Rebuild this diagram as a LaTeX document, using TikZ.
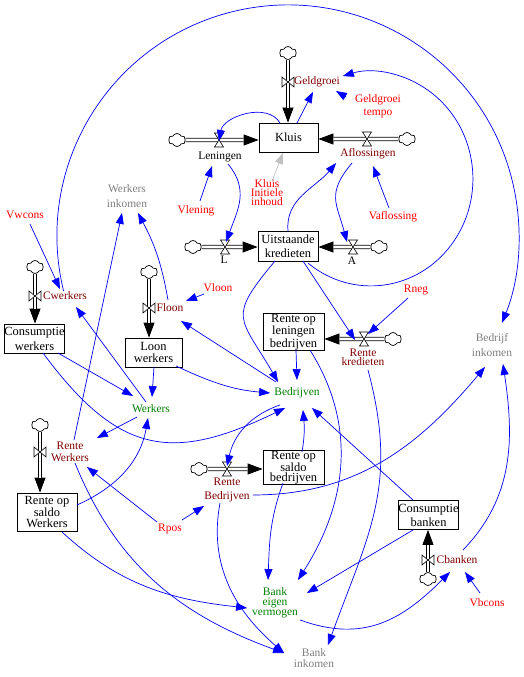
\documentclass[tikz,border=0pt]{standalone}
\usepackage{fontspec}
\setmainfont{Liberation Serif}
\usetikzlibrary{arrows.meta,shapes.symbols}
\definecolor{cblue}{RGB}{0,0,255}
\definecolor{cmaroon}{RGB}{128,0,0}
\definecolor{cgreen}{RGB}{0,128,0}
\definecolor{cgray}{RGB}{128,128,128}
\definecolor{csilver}{RGB}{192,192,192}
\definecolor{cred}{RGB}{255,0,0}
\tikzset{
  conn/.style={draw=cblue, line width=0.7bp, -{Triangle[length=11bp,width=8bp]}},
  gconn/.style={conn, draw=csilver},
  pipetip/.style={draw=black, line width=0.8bp, -{Triangle[length=15bp,width=11bp]}},
  pipe/.style={draw=black, double=white, double distance=2.6bp, line width=0.8bp, shorten >=15bp},
  stock/.style={draw, line width=0.8bp, fill=white, align=center, inner xsep=0bp, inner ysep=1bp, font=\fontsize{12.5}{#1}\selectfont},
  stock/.default=14,
  txt/.style={align=center, inner sep=0.5bp, font=\fontsize{11.5}{#1}\selectfont},
  txt/.default=13,
  redt/.style={txt=#1, text=cred}, redt/.default=13,
  flowt/.style={txt=#1, text=cmaroon}, flowt/.default=13,
  blackt/.style={txt=#1, text=black}, blackt/.default=13,
  greent/.style={txt=#1, text=cgreen}, greent/.default=13,
  grayt/.style={txt=#1, text=cgray}, grayt/.default=13,
  cloudn/.style={cloud, draw, fill=white, line width=0.7bp, cloud puffs=6, cloud puff arc=130, aspect=1.25, minimum width=17bp, minimum height=13bp, inner sep=0pt},
  hv/.pic={\draw[fill=white, line width=0.6bp] (-4.5,7)--(4.5,7)--(-4.5,-7)--(4.5,-7)--cycle;},
  vv/.pic={\draw[fill=white, line width=0.6bp] (-6,5)--(-6,-5)--(6,5)--(6,-5)--cycle;}
}
\newcommand\flowpipe[2]{\draw[pipetip] #1 -- #2; \draw[pipe] #1 -- #2;}
\begin{document}
\begin{tikzpicture}[x=1bp,y=1bp]
\fill[white] (0,0) rectangle (524,-677);
\useasboundingbox (0,0) rectangle (524,-677);

% stocks
\node[stock=12, minimum width=59bp, minimum height=29bp] (kluis) at (288.5,-137.5) {Kluis};
\node[stock=14, minimum width=60bp, minimum height=30bp] (uk) at (288,-246) {Uitstaande\\kredieten};
\node[stock=15, minimum width=59bp, minimum height=29bp] (cw) at (34.5,-338.5) {Consumptie\\werkers};
\node[stock=13, minimum width=57bp, minimum height=29bp] (lw) at (153.5,-352.5) {Loon\\werkers};
\node[stock=10, minimum width=61bp, minimum height=36bp] (rlb) at (293.5,-332) {Rente op\\leningen\\bedrijven};
\node[stock=10.5, minimum width=60bp, minimum height=38bp] (rsw) at (47,-512) {Rente op\\saldo\\Werkers};
\node[stock=9.5, minimum width=61bp, minimum height=31bp] (rsb) at (293.5,-467.5) {Rente op\\saldo\\bedrijven};
\node[stock=14, minimum width=60bp, minimum height=29bp] (cb) at (428.5,-515) {Consumptie\\banken};

% flow labels
\node[flowt] (lgg) at (317,-82) {Geldgroei};
\node[blackt] (lle) at (220,-157) {Leningen};
\node[flowt] (laf) at (368,-154) {Aflossingen};
\node[blackt] (ll) at (224,-260) {L};
\node[blackt] (la) at (352,-261) {A};
\node[flowt] (lcw) at (65,-296) {Cwerkers};
\node[flowt] (lfl) at (170,-308) {Floon};
\node[flowt=12] (lrw) at (70,-452) {Rente\\Werkers};
\node[flowt=14] (lrb) at (227,-490) {Rente\\Bedrijven};
\node[flowt=9.5] (lrk) at (363,-357.5) {Rente\\kredieten};
\node[flowt] (lcb) at (457,-560) {Cbanken};

% variables
\node[redt=13] (ggt) at (378,-106) {Geldgroei\\tempo};
\node[redt=7.5] (kii) at (267,-193) {Kluis\\Initiele\\inhoud};
\node[redt] (vlen) at (196,-211) {Vlening};
\node[redt] (vafl) at (393,-217) {Vaflossing};
\node[grayt=15] (wi) at (127,-196) {Werkers\\inkomen};
\node[redt] (vwc) at (25,-215) {Vwcons};
\node[redt] (vloon) at (218,-288) {Vloon};
\node[redt] (rneg) at (416,-290) {Rneg};
\node[grayt=15] (bi) at (492,-345) {Bedrijf\\inkomen};
\node[greent] (bedr) at (297,-393) {Bedrijven};
\node[greent] (wrk) at (151,-409) {Werkers};
\node[redt] (rpos) at (170,-529) {Rpos};
\node[greent=10] (bev) at (275,-603) {Bank\\eigen\\vermogen};
\node[redt] (vbc) at (487,-603) {Vbcons};
\node[grayt=11] (bink) at (314,-658) {Bank\\inkomen};

% clouds
\node[cloudn] (cgg) at (288,-53) {};
\node[cloudn] (cle) at (177,-140) {};
\node[cloudn] (caf) at (407,-139) {};
\node[cloudn] (cl) at (193,-247) {};
\node[cloudn] (ca) at (379,-247) {};
\node[cloudn] (ccw) at (35,-267) {};
\node[cloudn] (cfl) at (149,-272) {};
\node[cloudn] (crw) at (40,-425) {};
\node[cloudn] (crb) at (199,-469) {};
\node[cloudn] (crk) at (393,-339) {};
\node[cloudn] (ccb) at (428,-579) {};

% pipes
\flowpipe{(cgg)}{(cgg |- kluis.north)}
\flowpipe{(cle)}{(cle -| kluis.west)}
\flowpipe{(caf)}{(caf -| kluis.east)}
\flowpipe{(cl)}{(cl -| uk.west)}
\flowpipe{(ca)}{(ca -| uk.east)}
\flowpipe{(ccw)}{(ccw |- cw.north)}
\flowpipe{(cfl)}{(cfl |- lw.north)}
\flowpipe{(crw)}{(crw |- rsw.north)}
\flowpipe{(crb)}{(crb -| rsb.west)}
\flowpipe{(crk)}{(crk -| rlb.east)}
\flowpipe{(ccb)}{(ccb |- cb.south)}

% valves
\coordinate (vgg) at (288,-82);  \pic at (vgg) {vv};
\coordinate (vle) at (219,-140); \pic at (vle) {hv};
\coordinate (vaf) at (367,-139); \pic at (vaf) {hv};
\coordinate (vl) at (225,-247);  \pic at (vl) {hv};
\coordinate (va) at (353,-247);  \pic at (va) {hv};
\coordinate (vcw) at (35,-296);  \pic at (vcw) {vv};
\coordinate (vfl) at (149,-308); \pic at (vfl) {vv};
\coordinate (vrw) at (40,-452);  \pic at (vrw) {vv};
\coordinate (vrb) at (227,-469); \pic at (vrb) {hv};
\coordinate (vrk) at (364,-339); \pic at (vrk) {hv};
\coordinate (vcb) at (428,-560); \pic at (vcb) {vv};

% connectors
\draw[conn] ([xshift=-1.4,yshift=5]lcw.center) arc[start angle=193.8, end angle=-22.1, radius=231];
\draw[conn] ([xshift=20.2,yshift=-17.3]uk.center) arc[start angle=232, end angle=466, x radius=102, y radius=107];
\draw[conn] ([xshift=-32,yshift=9]ggt.center) -- ([xshift=19,yshift=-9]lgg.center);
\draw[conn] ([xshift=8.5,yshift=14.5]kluis.center) -- ([xshift=-4,yshift=-10]lgg.center);
\draw[conn] ([xshift=-8.5,yshift=14.5]kluis.center) to[out=120,in=80] ([yshift=-1]vle);
\draw[conn] ([xshift=4,yshift=10]vlen.center) -- ([xshift=-8,yshift=-9]lle.center);
\draw[conn] ([xshift=8,yshift=-7]lle.center) to[out=-50,in=70,looseness=1.1] ([xshift=1,yshift=5]vl);
\draw[conn] ([yshift=15]uk.center) to[out=95,in=230] ([xshift=-32,yshift=-9]laf.center);
\draw[conn] ([xshift=-16,yshift=-9]laf.center) to[out=-130,in=105,looseness=1.3] ([xshift=-6,yshift=5]va);
\draw[conn] ([xshift=-4,yshift=9]vafl.center) -- ([xshift=5,yshift=-12]laf.center);
\draw[gconn] ([xshift=5,yshift=12]kii.center) -- ([xshift=-5.5,yshift=-15.5]kluis.center);
\draw[conn] ([xshift=5,yshift=-9]vwc.center) -- ([xshift=-5,yshift=7]lcw.center);
\draw[conn] ([xshift=-14,yshift=-6]vloon.center) -- ([xshift=16,yshift=7]lfl.center);
\draw[conn] ([xshift=-2,yshift=8]lfl.center) to[out=100,in=-62] ([xshift=11,yshift=-17]wi.center);
\draw[conn] ([xshift=4,yshift=12]lrw.center) -- ([xshift=-5,yshift=-17]wi.center);
\draw[conn] ([xshift=-5,yshift=7]wrk.center) -- ([xshift=11,yshift=-11]lcw.center);
\draw[conn] ([xshift=23.5,yshift=-14.5]cw.center) -- ([xshift=-18,yshift=13]wrk.center);
\draw[conn] ([xshift=0.5,yshift=-14.5]lw.center) -- ([xshift=1,yshift=12]wrk.center);
\draw[conn] ([xshift=8.5,yshift=-14.5]cw.center) to[out=-53.5,in=206,looseness=1.3] ([xshift=-12,yshift=-15]bedr.center);
\draw[conn] ([xshift=22.5,yshift=-13.5]lw.center) to[out=-25,in=175] ([xshift=-27]bedr.center);
\draw[conn] ([xshift=-21,yshift=11]bedr.center) -- ([xshift=11,yshift=-13]lfl.center);
\draw[conn] ([xshift=-13,yshift=-15]uk.center) to[out=-130,in=120,looseness=1.6] ([xshift=-19,yshift=11]bedr.center);
\draw[conn] ([xshift=2.5,yshift=-18]rlb.center) -- ([yshift=13]bedr.center);
\draw[conn] ([xshift=8.5,yshift=15.5]rsb.center) to[out=80,in=-85] ([xshift=6,yshift=-17]bedr.center);
\draw[conn] ([xshift=-15.5,yshift=15]cb.center) -- ([xshift=15,yshift=-15]bedr.center);
\draw[conn] ([xshift=-17,yshift=-12]bedr.center) to[out=199,in=77.5] ([yshift=3]vrb);
\draw[conn] ([xshift=-14,yshift=-8]wrk.center) -- ([xshift=27,yshift=14]lrw.center);
\draw[conn] ([xshift=30,yshift=7]rsw.center) to[out=24,in=-100] ([xshift=-3,yshift=-9]wrk.center);
\draw[conn] ([xshift=-13,yshift=7]rpos.center) -- ([xshift=17,yshift=-15]lrw.center);
\draw[conn] ([xshift=12,yshift=9]rpos.center) -- ([xshift=-23,yshift=-16]lrb.center);
\draw[conn] ([xshift=5,yshift=-11]lrw.center) to[out=-68,in=160] ([xshift=-30,yshift=5]bink.center);
\draw[conn] ([xshift=-7,yshift=-13]lrb.center) to[out=-100.7,in=139.3] ([xshift=-30,yshift=5]bink.center);
\draw[conn] ([xshift=15,yshift=-20]rsw.center) to[out=-42.6,in=173.7] ([xshift=-28,yshift=-5]bev.center);
\draw[conn] ([xshift=-10.5,yshift=-15.5]rsb.center) to[out=-110,in=88] ([xshift=-7,yshift=23]bev.center);
\draw[conn] ([xshift=16.5,yshift=-18]rlb.center) to[out=-57.8,in=57.4] ([xshift=23,yshift=23]bev.center);
\draw[conn] ([xshift=5,yshift=-12.5]lrk.center) to[out=-75,in=70,looseness=1.1] ([xshift=14,yshift=13]bink.center);
\draw[conn] ([xshift=-15.5,yshift=-15]cb.center) -- ([xshift=32,yshift=10]bev.center);
\draw[conn] ([xshift=25,yshift=-17]bev.center) to[out=-20,in=225,looseness=1.1] ([xshift=-7,yshift=-12]lcb.center);
\draw[conn] ([xshift=-7,yshift=10]vbc.center) -- ([xshift=8,yshift=-12]lcb.center);
\draw[conn] ([xshift=6,yshift=10]lcb.center) to[out=46,in=-81.5] ([xshift=11,yshift=-19]bi.center);
\draw[conn] ([xshift=26,yshift=-5]lrb.center) to[out=0,in=230] ([xshift=-7,yshift=-22]bi.center);
\draw[conn] ([xshift=-8,yshift=-8]rneg.center) -- ([xshift=4,yshift=5]vrk);
\draw[conn] ([xshift=15,yshift=-15]uk.center) -- ([xshift=-9,yshift=-1]vrk);
\end{tikzpicture}
\end{document}
